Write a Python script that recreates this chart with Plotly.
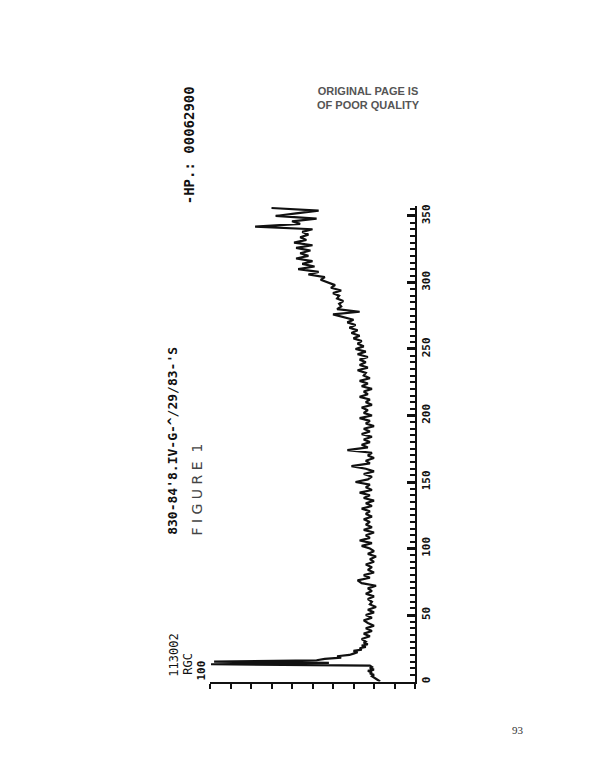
import plotly.graph_objects as go

# Scan numbers (vertical axis in the rotated page) and relative intensity (%)
scans = list(range(0, 30)) + list(range(30, 357, 2))

intensity_0_29 = [17, 18, 19, 20, 21, 20, 22, 21, 23, 20,
                  22, 21, 22, 99.5, 42, 98, 48, 44, 36, 38,
                  32, 30, 28, 30, 26, 27, 24, 26, 23, 25]
intensity_30_60 = [24, 26, 22, 25, 21, 24, 20, 23, 25, 21, 24, 20, 23, 19, 22, 21]
intensity_62_120 = [23, 20, 24, 21, 23, 19, 26, 28, 22, 25, 20, 23, 21, 24, 20,
                    22, 19, 23, 20, 22, 26, 21, 27, 22, 24, 20, 25, 21, 24, 22]
intensity_122_182 = [25, 21, 24, 22, 26, 21, 24, 20, 25, 22, 27, 21, 24, 22, 29, 23,
                     21, 25, 20, 24, 31, 22, 24, 20, 23, 21, 33, 23, 26, 22, 25]
intensity_184_240 = [21, 26, 22, 25, 20, 24, 22, 27, 21, 25, 23, 26, 21, 24, 22,
                     27, 23, 25, 21, 26, 23, 27, 22, 25, 24, 28, 23, 27, 24]
intensity_242_300 = [27, 23, 28, 24, 29, 25, 28, 26, 30, 27, 31, 28, 32, 29, 33,
                     30, 35, 40, 27, 38, 36, 37, 35, 38, 37, 40, 36, 41, 39, 43]
intensity_302_356 = [46, 44, 52, 47, 57, 49, 55, 50, 58, 52, 56, 51, 58, 50,
                     59, 53, 56, 52, 55, 50, 78, 56, 60, 48, 68, 58, 47, 70]

intensity = (intensity_0_29 + intensity_30_60 + intensity_62_120 + intensity_122_182
             + intensity_184_240 + intensity_242_300 + intensity_302_356)

scan_ticks = [0, 50, 100, 150, 200, 250, 300, 350]
scan_tick_labels = ["0", "50", "100", "150", "200", "250", "300", "350"]

W, H = 612, 780
OFF = 8  # page body margin offset in the browser


def px(x):
    return (x - OFF) / W


def py(y):
    return 1 - (y - OFF) / H


fig = go.Figure()
fig.add_trace(go.Scatter(
    x=intensity, y=scans, mode="lines",
    line=dict(color="#111111", width=2.2),
    hoverinfo="skip", showlegend=False,
))

fig.update_layout(
    width=W, height=H,
    margin=dict(l=0, r=0, t=0, b=0),
    paper_bgcolor="white", plot_bgcolor="white",
    xaxis=dict(
        domain=[px(210), px(415)], range=[100, 0], autorange=False,
        showgrid=False, zeroline=False,
        showline=True, linecolor="#111", linewidth=2,
        ticks="outside", ticklen=5, tickwidth=1.5, tickcolor="#111",
        dtick=10, tick0=0, showticklabels=False,
    ),
    yaxis=dict(
        domain=[py(683), py(205)], range=[0, 357.5], autorange=False,
        side="right", showgrid=False, zeroline=False,
        showline=True, linecolor="#111", linewidth=2,
        ticks="inside", ticklen=8, tickwidth=2.5, tickcolor="#111",
        tickvals=scan_ticks, ticktext=scan_tick_labels,
        tickangle=-90,
        tickfont=dict(family="DejaVu Sans Mono", size=11, color="#111", weight="bold"),
        minor=dict(ticks="inside", ticklen=5, tickwidth=1.5, tickcolor="#111",
                   dtick=5, tick0=0),
    ),
)

annots = [
    dict(text="<b>-HP.: 00062900</b>", x=px(189), y=py(144),
         font=dict(family="DejaVu Sans Mono", size=14, color="#111")),
    dict(text="<b>830-84'8.IV-G-^/29/83-'S</b>", x=px(173), y=py(441),
         font=dict(family="DejaVu Sans Mono", size=13, color="#111")),
    dict(text="F I G U R E  1", x=px(197), y=py(490),
         font=dict(family="DejaVu Sans", size=14, color="#444")),
    dict(text="113002", x=px(174), y=py(657),
         font=dict(family="DejaVu Sans Mono", size=12, color="#111")),
    dict(text="RGC", x=px(188), y=py(665),
         font=dict(family="DejaVu Sans Mono", size=12, color="#111")),
    dict(text="<b>100</b>", x=px(202), y=py(672),
         font=dict(family="DejaVu Sans Mono", size=11, color="#111")),
]
for a in annots:
    fig.add_annotation(xref="paper", yref="paper", showarrow=False,
                       textangle=-90, xanchor="center", yanchor="middle", **a)

fig.add_annotation(xref="paper", yref="paper", showarrow=False,
                   x=px(368), y=py(96), xanchor="center", yanchor="middle",
                   text="<b>ORIGINAL PAGE IS<br>OF POOR QUALITY</b>",
                   font=dict(family="Liberation Sans", size=11, color="#555"))
fig.add_annotation(xref="paper", yref="paper", showarrow=False,
                   x=px(518), y=py(732), xanchor="center", yanchor="middle",
                   text="93",
                   font=dict(family="Liberation Serif", size=11, color="#333"))

fig.write_html("out.html")
